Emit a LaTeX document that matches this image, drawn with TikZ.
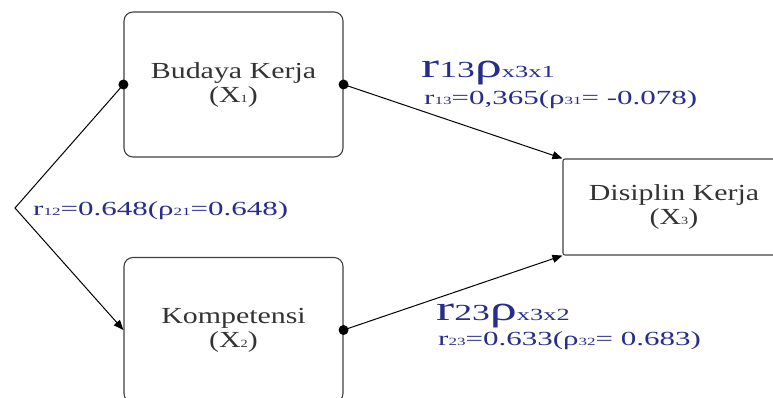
\documentclass[tikz,border=0pt]{standalone}
\usepackage{fontspec}
\setmainfont{Liberation Serif}
\newfontfamily\boxfont{Liberation Serif}[FakeStretch=1.3]
\newfontfamily\labfont{Liberation Serif}[FakeStretch=1.55]
\usetikzlibrary{arrows.meta}

\definecolor{labblue}{RGB}{40,45,140}
\newcommand{\boxsub}[1]{{\fontsize{11}{11}\selectfont #1}}
\newcommand{\rsub}[1]{{\fontsize{11}{11}\selectfont #1}}
\newcommand{\pathlab}[3]{{\fontsize{35}{35}\selectfont r}{\fontsize{23}{23}\selectfont #1}%
  {\fontsize{35}{35}\selectfont ρ}{\fontsize{17}{17}\selectfont x#2x#3}}

\tikzset{
  varbox/.style={draw=black!75,line width=1.1pt,rounded corners=9pt,
    minimum width=219pt,minimum height=145pt,align=center,text=black!80,
    font=\boxfont\fontsize{23}{24}\selectfont},
  lab/.style={text=labblue,inner sep=0pt,font=\labfont\fontsize{20}{20}\selectfont},
  conn/.style={line width=1pt,-{Triangle[length=10pt,width=8pt]}}
}

\begin{document}
\begin{tikzpicture}[x=1pt,y=-1pt]

  \useasboundingbox (0,0) rectangle (773,398);

  \node[varbox] (BUDK) at (233.5,84.5) {Budaya Kerja\\(X\boxsub{1})};
  \node[varbox] (KOMP) at (233.5,330) {Kompetensi\\(X\boxsub{2})};
  \node[varbox,rounded corners=2pt,minimum width=222pt,minimum height=96pt]
    (DISK) at (674,207) {Disiplin Kerja\\(X\boxsub{3})};

  \coordinate (BEND) at (15,208);

  \draw[conn] (BUDK.west) -- (BEND) -- (KOMP.west);
  \draw[conn] (BUDK.east) -- (DISK.north west);
  \draw[conn] (KOMP.east) -- (DISK.south west);

  \fill (BUDK.west) circle(5pt);
  \fill (BUDK.east) circle(5pt);
  \fill (KOMP.east) circle(5pt);

  \node[lab,anchor=base west] (R12) at (33,215) {r\rsub{12}=0.648(ρ\rsub{21}=0.648)};

  \node[lab,anchor=base west] (R13) at (421,78) {\pathlab{13}{3}{1}};
  \node[lab,anchor=base west] (R13V) at (424,105) {r\rsub{13}=0,365(ρ\rsub{31}= -0.078)};

  \node[lab,anchor=base west] (R23) at (436,320) {\pathlab{23}{3}{2}};
  \node[lab,anchor=base west] (R23V) at (438,345) {r\rsub{23}=0.633(ρ\rsub{32}= 0.683)};

\end{tikzpicture}
\end{document}
